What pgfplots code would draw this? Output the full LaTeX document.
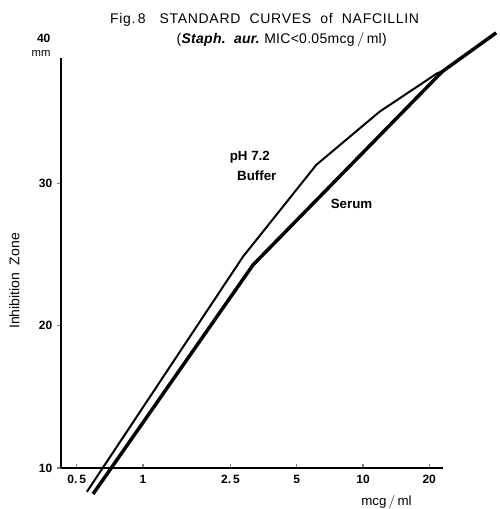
\documentclass[border=0pt]{standalone}
\usepackage{fontspec}
\setmainfont{Liberation Sans}
\usepackage{pgfplots}
\pgfplotsset{compat=1.18}
\begin{document}
\begin{tikzpicture}
\begin{axis}[
  scale only axis,
  width=286.5pt, height=307.5pt,
  xmode=log, log basis x=10,
  xmin=0.424, xmax=23.1,
  ymin=10, ymax=38.8,
  axis x line*=bottom, axis y line*=left,
  axis line style={line width=1.2pt, -},
  clip=false,
  xtick={0.5,1,2.5,5,10,20},
  xticklabels={0.\,5,1,2.\,5,5,10,20},
  ytick={10,20,30},
  yticklabels={10,20,30},
  minor xtick={}, minor ytick={},
  tick align=inside,
  major tick length=3pt,
  ytick style={xshift=-3pt, line width=0.8pt},
  xtick style={line width=0.8pt},
  tick label style={font=\fontsize{9}{10}\selectfont\bfseries},
  xticklabel style={yshift=-2pt},
  yticklabel style={xshift=-3pt},
  /pgf/number format/assume math mode=true,
]
\coordinate (sw) at (rel axis cs:0,0);
% Serum
\addplot[black, line width=2.6pt, line join=round] coordinates {
 (0.593,8.17) (3.165,24.27) (22.94,37.85) (40.3,40.57)
};
% pH 7.2 Buffer
\addplot[black, line width=1.5pt, line join=round] coordinates {
 (0.556,8.33) (2.85,24.85) (6.13,31.29) (11.88,35.02) (21.8,37.74) (22.94,37.85)
};
\node[font=\fontsize{10}{11}\selectfont\bfseries] at (axis cs:3.06,31.8) {pH 7.2};
\node[font=\fontsize{10}{11}\selectfont\bfseries] at (axis cs:3.29,30.5) {Buffer};
\node[font=\fontsize{10}{11}\selectfont\bfseries] at (axis cs:8.87,28.55) {Serum};
\node[font=\fontsize{8.5}{9}\selectfont, inner sep=0pt] at (axis cs:0.344,39.09) {mm};
\node[font=\fontsize{9}{10}\selectfont\bfseries, inner sep=0pt] at (axis cs:0.354,40.15) {40};
\node[font=\fontsize{10}{11}\selectfont] at (axis cs:12.79,7.61) {mcg$\,/\,$ml};
\node[font=\fontsize{10.5}{11}\selectfont, rotate=90] at (axis cs:0.26,23.14) {Inhibition\ \ Zone};
\node[font=\fontsize{10.5}{12}\selectfont\addfontfeatures{LetterSpace=5}] at (axis cs:3.57,41.48) {Fig.\,8\quad STANDARD\ \ CURVES\ \ of\ \ NAFCILLIN};
\node[font=\fontsize{10.5}{12}\selectfont\addfontfeatures{LetterSpace=2}] at (axis cs:4.27,40.08) {(\textbf{\textit{Staph.\ \ aur.}}\ MIC<0.05mcg$\,/\,$ml)};
\end{axis}
\pgfresetboundingbox
\path ([shift={(-45.75pt,-30.75pt)}]sw) rectangle ([shift={(328.5pt,351pt)}]sw);
\end{tikzpicture}
\end{document}
